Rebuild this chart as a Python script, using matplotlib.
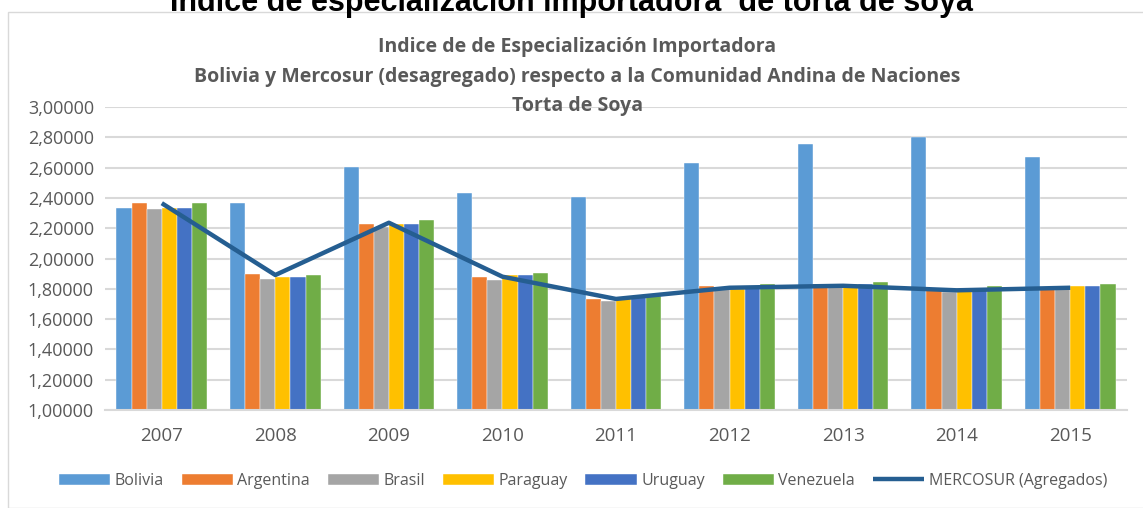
import numpy as np
import matplotlib.pyplot as plt
from matplotlib.patches import Rectangle
from matplotlib.ticker import FuncFormatter

years = ['2007', '2008', '2009', '2010', '2011', '2012', '2013', '2014', '2015']
bolivia = [2.335, 2.364, 2.604, 2.434, 2.406, 2.630, 2.756, 2.800, 2.672]
argentina = [2.364, 1.900, 2.226, 1.876, 1.733, 1.818, 1.830, 1.792, 1.814]
brasil = [2.325, 1.862, 2.208, 1.860, 1.720, 1.800, 1.825, 1.777, 1.803]
paraguay = [2.335, 1.876, 2.226, 1.889, 1.737, 1.800, 1.830, 1.785, 1.818]
uruguay = [2.335, 1.876, 2.226, 1.889, 1.748, 1.810, 1.830, 1.795, 1.818]
venezuela = [2.364, 1.889, 2.254, 1.902, 1.754, 1.834, 1.847, 1.818, 1.832]
mercosur = [2.365, 1.891, 2.236, 1.880, 1.733, 1.807, 1.820, 1.790, 1.807]

series = [
    ('Bolivia', bolivia, '#5B9BD5'),
    ('Argentina', argentina, '#ED7D31'),
    ('Brasil', brasil, '#A5A5A5'),
    ('Paraguay', paraguay, '#FFC000'),
    ('Uruguay', uruguay, '#4472C4'),
    ('Venezuela', venezuela, '#70AD47'),
]

plt.rcParams['font.family'] = ['Open Sans', 'DejaVu Sans']
grey = '#595959'

fig = plt.figure(figsize=(11.43, 5.08), dpi=100)
ax = fig.add_axes([105 / 1143, 1 - 410 / 508, 1022 / 1143, 303 / 508])

x = np.arange(len(years))
w = 0.133
handles = []
for i, (name, vals, col) in enumerate(series):
    b = ax.bar(x + (i - 2.5) * w, vals, w, bottom=0, color=col, label=name,
               edgecolor='white', linewidth=0.3, zorder=2)
    handles.append(b)
ln, = ax.plot(x, mercosur, color='#255E91', linewidth=3.2, label='MERCOSUR (Agregados)',
              zorder=3, solid_capstyle='butt')
handles.append(ln)

ax.set_ylim(1.0, 3.0)
ax.set_xlim(-0.5, len(years) - 0.5)
ax.set_yticks(np.arange(1.0, 3.01, 0.2))
ax.yaxis.set_major_formatter(FuncFormatter(lambda v, p: f'{v:.5f}'.replace('.', ',')))
ax.set_xticks(x)
ax.set_xticklabels(years)
ax.tick_params(axis='both', length=0, labelsize=13, colors=grey, pad=8)
ax.tick_params(axis='x', labelsize=13.5, pad=12)
ax.grid(axis='y', color='#D9D9D9', linewidth=1.5, zorder=0)
ax.set_axisbelow(True)
for s in ['top', 'right', 'left']:
    ax.spines[s].set_visible(False)
ax.spines['bottom'].set_color('#D9D9D9')
ax.spines['bottom'].set_linewidth(1.5)

# chart border
fig.patches.append(Rectangle((8 / 1143, 0), 1.2, 1 - 12 / 508, transform=fig.transFigure,
                             fill=False, edgecolor='#D9D9D9', linewidth=1))

fig.text(0.505, 1 - 47 / 508, 'Indice de de Especialización Importadora', ha='center',
         va='center', fontsize=14, fontweight='bold', color=grey)
fig.text(0.505, 1 - 77 / 508, 'Bolivia y Mercosur (desagregado) respecto a la Comunidad Andina de Naciones',
         ha='center', va='center', fontsize=14, fontweight='bold', color=grey)
fig.text(0.505, 1 - 106 / 508, 'Torta de Soya', ha='center', va='center', fontsize=14,
         fontweight='bold', color=grey)
fig.text(0.5, 1 - 3 / 508, 'Indice de especialización importadora  de torta de soya', ha='center',
         va='center', fontsize=22, fontweight='bold', family='Liberation Sans', color='black')

leg = fig.legend(handles=handles, loc='center', bbox_to_anchor=(0.51, 1 - 481 / 508), ncol=7,
                 frameon=False, fontsize=11.5, handlelength=3.2, handleheight=0.7,
                 columnspacing=1.1, handletextpad=0.3)
for t in leg.get_texts():
    t.set_color(grey)

fig.savefig('out.png', dpi=100)
